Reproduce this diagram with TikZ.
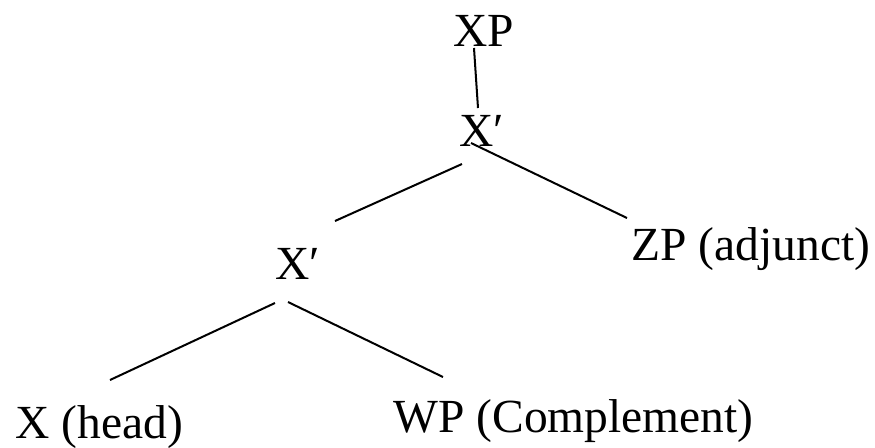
\documentclass[tikz,border=0pt]{standalone}
\usepackage{fontspec}
\setmainfont{Liberation Serif}
\usetikzlibrary{calc}
\begin{document}
\begin{tikzpicture}[x=0.5pt,y=-0.5pt,
  lbl/.style={inner sep=0pt, anchor=base west, font=\fontsize{23.75}{28}\selectfont},
  edge/.style={line width=1pt}]
\useasboundingbox (0,0) rectangle (875,447);
\node[lbl] (xp)  at (453,46)  {XP};
\node[lbl] (xb1) at (459,146) {X′};
\node[lbl] (xb2) at (275,279) {X′};
\node[lbl] (zp)  at (631,260) {ZP (adjunct)};
\node[lbl] (x)   at (15,438)  {X (head)};
\node[lbl] (wp)  at (393,432) {WP (Complement)};
\draw[edge] ($(xp.base west)+(21,2)$) -- ($(xb1.base west)+(19,-38)$);
\draw[edge] ($(xb1.base west)+(3,18)$) -- ($(xb2.base west)+(60,-58)$);
\draw[edge] ($(xb1.base west)+(12,-3)$) -- ($(zp.base west)+(-4,-42)$);
\draw[edge] ($(xb2.base west)+(0,24)$) -- ($(x.base west)+(95,-58)$);
\draw[edge] ($(xb2.base west)+(13,23)$) -- ($(wp.base west)+(50,-55)$);
\end{tikzpicture}
\end{document}
